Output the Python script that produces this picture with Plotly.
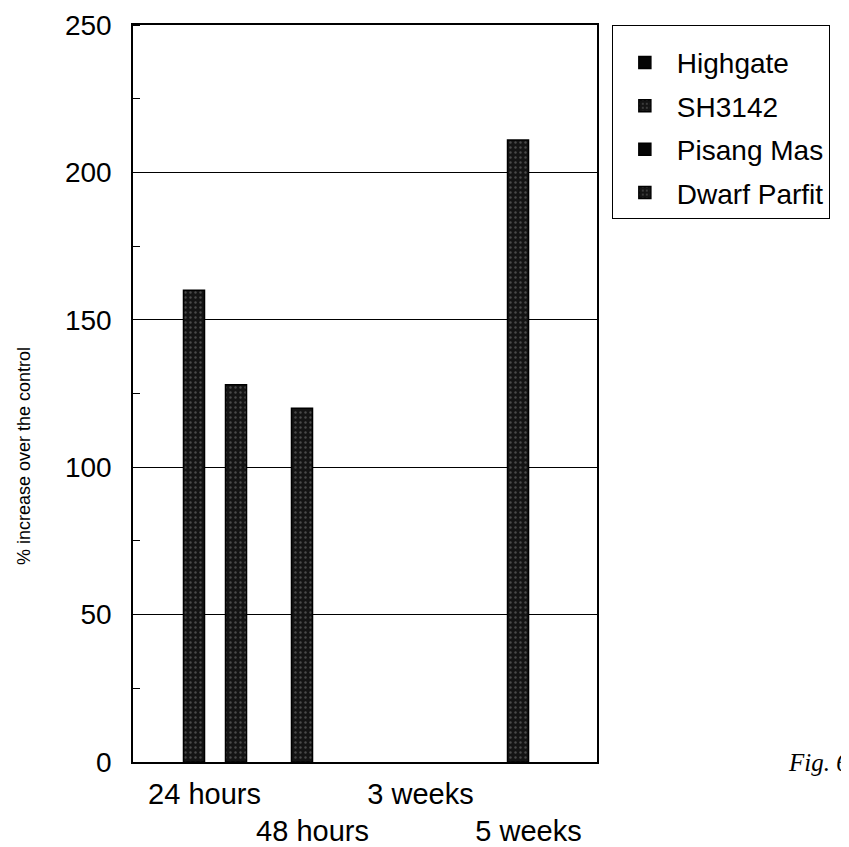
import plotly.graph_objects as go

categories = ["24 hours", "48 hours", "3 weeks", "5 weeks"]
tick_text = ["24 hours", "<br>48 hours", "3 weeks", "<br>5 weeks"]
series_names = ["Highgate", "SH3142", "Pisang Mas", "Dwarf Parfit"]
highgate = [None, None, None, None]
sh3142 = [160, 120, None, 211]
pisang_mas = [None, None, None, None]
dwarf_parfit = [128, None, None, None]
y_ticks = [0, 50, 100, 150, 200, 250]

series_values = [highgate, sh3142, pisang_mas, dwarf_parfit]
fills = ["#050505", "#141414", "#050505", "#141414"]
speckle = [False, True, False, True]

FONT = "Liberation Sans, Arial, Helvetica, sans-serif"

fig = go.Figure()
for i, (name, vals) in enumerate(zip(series_names, series_values)):
    marker = dict(color=fills[i], line=dict(color="#000000", width=1.5))
    if speckle[i]:
        marker["pattern"] = dict(shape=".", fillmode="overlay", fgcolor="#808080",
                                 bgcolor=fills[i], size=5, solidity=0.18)
    fig.add_trace(go.Bar(x=categories, y=vals, name=name, marker=marker,
                         legendgroup=name))

fig.update_layout(
    width=849, height=847,
    margin=dict(l=125, r=260, t=17, b=93, autoexpand=False),
    paper_bgcolor="white", plot_bgcolor="white",
    barmode="group", bargap=0.222, bargroupgap=0,
    font=dict(family=FONT, color="#000000", size=28),
    showlegend=True,
    legend=dict(
        x=1.032, y=1.0, xanchor="left", yanchor="top",
        bordercolor="#000000", borderwidth=1, bgcolor="white",
        font=dict(family=FONT, size=28, color="#000000"),
        traceorder="grouped", tracegroupgap=4, itemwidth=54,
        entrywidth=250, entrywidthmode="pixels",
        title=dict(text=" ", font=dict(size=9)),
    ),
)

fig.update_xaxes(
    type="category", range=[-0.662, 3.634], automargin=False,
    tickvals=categories, ticktext=tick_text, tickangle=0,
    showline=True, linecolor="#000000", linewidth=1.5, mirror=True,
    ticks="", showgrid=False, zeroline=False, ticklabelstandoff=5,
    tickfont=dict(family=FONT, size=29, color="#000000"),
)
fig.update_yaxes(
    range=[0, 250], tickvals=y_ticks, automargin=False,
    showline=True, linecolor="#000000", linewidth=1.5, mirror=True,
    showgrid=True, gridcolor="#000000", gridwidth=1,
    zeroline=False, ticks="", ticklabelstandoff=14,
    minor=dict(ticks="inside", dtick=25, tick0=25, ticklen=7,
               tickcolor="#000000", tickwidth=1, showgrid=False),
    tickfont=dict(family=FONT, size=28, color="#000000"),
)

fig.add_annotation(
    text="% increase over the control", textangle=-90,
    xref="paper", yref="paper", x=-0.235, y=0.415,
    xanchor="center", yanchor="middle", showarrow=False,
    font=dict(family=FONT, size=18, color="#000000"),
)
fig.add_annotation(
    text="<i>Fig. 6</i>",
    xref="paper", yref="paper", x=1.408, y=0.0,
    xanchor="left", yanchor="middle", showarrow=False,
    font=dict(family="Liberation Serif, Times New Roman, serif", size=25, color="#000000"),
)

fig.write_html("out.html")
